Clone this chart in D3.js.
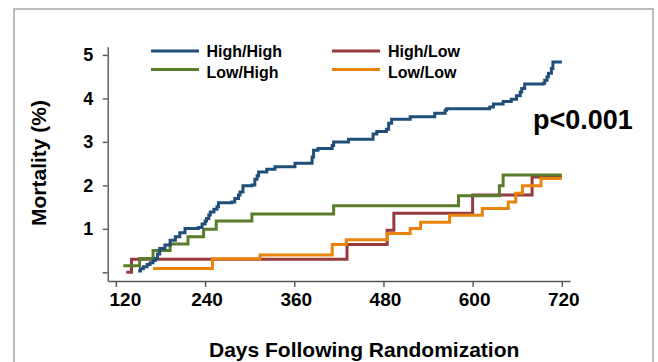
<html>
<head>
<script src="https://d3js.org/d3.v7.min.js"></script>
<style>
body { margin: 0; background: white; font-family: Arial, "Liberation Sans", sans-serif; }
</style>
</head>
<body>
<script>
// step data: [day, mortality %]
var highHigh = [[150,0.03],[153,0.08],[157,0.13],[162,0.18],[166,0.22],[170,0.27],[173,0.32],[176,0.42],[179,0.55],
  [186,0.63],[193,0.74],[200,0.82],[206,0.91],[213,1.01],[231,1.03],[236,1.11],[240,1.18],[242,1.24],[245,1.32],
  [247,1.39],[252,1.45],[256,1.51],[258,1.60],[276,1.62],[280,1.70],[285,1.78],[287,1.85],[291,1.99],[303,2.01],
  [307,2.14],[310,2.22],[312,2.31],[323,2.37],[334,2.43],[361,2.51],[384,2.65],[386,2.81],[392,2.85],[411,2.92],
  [413,3.00],[433,3.06],[466,3.18],[471,3.24],[484,3.29],[487,3.43],[491,3.52],[516,3.58],[549,3.66],[563,3.73],
  [565,3.76],[623,3.80],[628,3.87],[641,3.93],[652,3.98],[659,4.06],[664,4.15],[666,4.23],[670,4.33],[695,4.35],
  [697,4.42],[700,4.50],[702,4.58],[706,4.69],[708,4.84],[720,4.84]];
var highLow = [[134,0.00],[141,0.30],[431,0.64],[485,0.97],[494,1.36],[600,1.78],[680,2.19],[720,2.19]];
var lowHigh = [[130,0.15],[152,0.32],[170,0.50],[193,0.65],[217,0.82],[238,0.99],[255,1.18],[303,1.34],
  [413,1.53],[581,1.76],[636,1.99],[641,2.24],[720,2.24]];
var lowLow = [[170,0.09],[250,0.31],[314,0.40],[411,0.64],[430,0.75],[485,0.89],[516,1.01],[530,1.15],
  [569,1.31],[613,1.47],[648,1.62],[658,1.82],[667,1.99],[692,2.16],[720,2.16]];

var seriesNames = ["High/High", "High/Low", "Low/High", "Low/Low"];
var seriesColors = ["#1f4e79", "#953a3d", "#5a7d2c", "#e8840c"];
var xTicks = [120, 240, 360, 480, 600, 720];
var yTicks = [0, 1, 2, 3, 4, 5];

var width = 658, height = 362;

var svg = d3.select("body").append("svg")
  .attr("width", width)
  .attr("height", height);

// outer frame
svg.append("rect")
  .attr("x", 14).attr("y", 9)
  .attr("width", 639).attr("height", 370)
  .attr("fill", "none")
  .attr("stroke", "#a6a6a6")
  .attr("stroke-width", 1.5);

var x = d3.scaleLinear().domain([109, 731]).range([107.7, 570]);
var y = d3.scaleLinear().domain([-0.2, 5.19]).range([281, 46.7]);

// axes
var xAxis = svg.append("g")
  .attr("transform", "translate(0,281)")
  .call(d3.axisBottom(x).tickValues(xTicks).tickSize(6).tickSizeOuter(0));
xAxis.selectAll("text")
  .attr("y", 12)
  .attr("dx", function(d) { return d === 120 ? 9 : 1.5; })
  .style("font-size", "19px")
  .style("font-weight", "bold")
  .attr("fill", "#000");

var yAxis = svg.append("g")
  .attr("transform", "translate(107.7,0)")
  .call(d3.axisLeft(y).tickValues(yTicks).tickSize(5).tickSizeOuter(0)
    .tickFormat(function(d) { return d === 0 ? "" : d; }));
yAxis.selectAll("text")
  .attr("x", -14.5)
  .style("font-size", "18px")
  .style("font-weight", "bold")
  .attr("fill", "#000");

svg.selectAll(".domain, .tick line")
  .attr("stroke", "#555")
  .attr("stroke-width", 1.4);

// curves
var line = d3.line()
  .x(function(d) { return x(d[0]); })
  .y(function(d) { return y(d[1]); })
  .curve(d3.curveStepAfter);

var allSeries = [highLow, lowLow, lowHigh, highHigh];
var drawColors = [seriesColors[1], seriesColors[3], seriesColors[2], seriesColors[0]];
svg.append("g").selectAll("path")
  .data(allSeries)
  .enter()
  .append("path")
  .attr("d", line)
  .attr("fill", "none")
  .attr("stroke", function(d, i) { return drawColors[i]; })
  .attr("stroke-width", 3);

// legend
var legendPos = [[151, 51, 206.5, 56.5], [332, 51, 388, 56.5], [151, 69.5, 206.5, 77.5], [332, 69.5, 388, 77.5]];
var legend = svg.append("g");
seriesNames.forEach(function(name, i) {
  var p = legendPos[i];
  legend.append("line")
    .attr("x1", p[0]).attr("x2", p[0] + 48)
    .attr("y1", p[1]).attr("y2", p[1])
    .attr("stroke", seriesColors[i])
    .attr("stroke-width", 3);
  legend.append("text")
    .attr("x", p[2]).attr("y", p[3])
    .style("font-size", "16px")
    .style("font-weight", "bold")
    .text(name);
});

// p value
svg.append("text")
  .attr("x", 533).attr("y", 128.5)
  .style("font-size", "27px")
  .style("font-weight", "bold")
  .text("p<0.001");

// axis titles
svg.append("text")
  .attr("x", 209).attr("y", 357)
  .style("font-size", "21px")
  .style("font-weight", "bold")
  .text("Days Following Randomization");

svg.append("text")
  .attr("transform", "translate(46,163) rotate(-90)")
  .attr("text-anchor", "middle")
  .style("font-size", "21px")
  .style("font-weight", "bold")
  .text("Mortality (%)");
</script>
</body>
</html>
